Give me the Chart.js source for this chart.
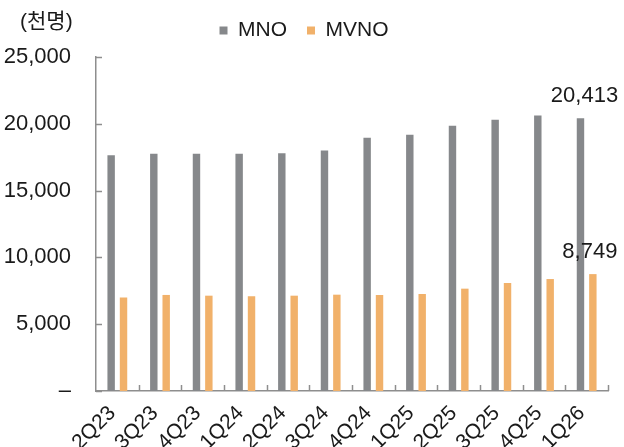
<!DOCTYPE html>
<html>
<head>
<meta charset="utf-8">
<script src="https://cdn.jsdelivr.net/npm/chart.js@4"></script>
<style>
  html, body { margin: 0; padding: 0; background: #fff; }
  #wrap { width: 624px; height: 447px; }
</style>
</head>
<body>
<div id="wrap"><canvas id="chart"></canvas></div>
<script>
// Quarterly subscribers (thousands)
const QUARTERS = ['2Q23', '3Q23', '4Q23', '1Q24', '2Q24', '3Q24', '4Q24', '1Q25', '2Q25', '3Q25', '4Q25', '1Q26'];
const MNO  = [17640, 17760, 17760, 17760, 17790, 18010, 18960, 19180, 19850, 20300, 20620, 20413];
const MVNO = [6990, 7190, 7135, 7085, 7135, 7210, 7190, 7260, 7660, 8080, 8380, 8749];
const Y_TICKS = [0, 5000, 10000, 15000, 20000, 25000];
const UNIT_LABEL = '(천명)';

const COLOR_MNO  = '#86888b';
const COLOR_MVNO = '#f1b16a';
const AXIS_COLOR = '#8e8e8e';
const TEXT_COLOR = '#1a1a1a';
const FONT = "'Liberation Sans', 'Noto Sans CJK KR', sans-serif";

// inward tick marks + unit label + last-point value labels
const extras = {
  id: 'extras',
  afterDraw(chart) {
    const { ctx, chartArea, scales } = chart;
    const x = scales.x, y = scales.y;
    ctx.save();
    ctx.strokeStyle = AXIS_COLOR;
    ctx.lineWidth = 1.5;
    ctx.beginPath();
    Y_TICKS.forEach(v => {
      const py = Math.round(y.getPixelForValue(v)) + 0.5;
      ctx.moveTo(chartArea.left, py);
      ctx.lineTo(chartArea.left + 6, py);
    });
    for (let i = 0; i < QUARTERS.length; i++) {
      const px = i < QUARTERS.length - 1
        ? (x.getPixelForValue(i) + x.getPixelForValue(i + 1)) / 2
        : chartArea.right;
      ctx.moveTo(Math.round(px) + 0.5, chartArea.bottom);
      ctx.lineTo(Math.round(px) + 0.5, chartArea.bottom - 6);
    }
    ctx.stroke();

    ctx.fillStyle = TEXT_COLOR;
    ctx.font = '21px ' + FONT;
    ctx.textAlign = 'left';
    ctx.textBaseline = 'middle';
    ctx.fillText(UNIT_LABEL, 20, 22);

    const last = QUARTERS.length - 1;
    const barMno = chart.getDatasetMeta(0).data[last];
    const barMvno = chart.getDatasetMeta(1).data[last];
    ctx.font = '22px ' + FONT;
    ctx.textAlign = 'center';
    ctx.textBaseline = 'bottom';
    ctx.fillText(MNO[last].toLocaleString('en-US'), barMno.x + 4, barMno.y - 11);
    ctx.fillText(MVNO[last].toLocaleString('en-US'), barMvno.x - 3, barMvno.y - 11);
    ctx.restore();
  }
};

new Chart(document.getElementById('chart'), {
  type: 'bar',
  data: {
    labels: QUARTERS,
    datasets: [
      { label: 'MNO', data: MNO, backgroundColor: COLOR_MNO },
      { label: 'MVNO', data: MVNO, backgroundColor: COLOR_MVNO },
    ],
  },
  options: {
    responsive: true,
    maintainAspectRatio: false,
    animation: false,
    categoryPercentage: 0.58,
    barPercentage: 0.6,
    layout: { padding: { top: 0, right: 16, left: 0, bottom: 0 } },
    plugins: {
      legend: {
        position: 'top',
        labels: {
          boxWidth: 8,
          boxHeight: 8,
          padding: 20,
          color: TEXT_COLOR,
          font: { size: 21, family: FONT },
        },
      },
      // empty spacer between legend and plot
      subtitle: {
        display: true,
        text: '',
        weight: 500,
        padding: 0,
        font: { size: 6, lineHeight: 1 },
      },
      tooltip: { enabled: false },
    },
    scales: {
      x: {
        afterFit: s => { s.height = 56; },
        grid: { display: false },
        border: { display: true, color: AXIS_COLOR, width: 1.5 },
        ticks: {
          color: TEXT_COLOR,
          font: { size: 21, family: FONT },
          maxRotation: 45,
          minRotation: 45,
          padding: 2,
          labelOffset: -5,
        },
      },
      y: {
        min: 0,
        max: 25000,
        afterBuildTicks: s => { s.ticks = Y_TICKS.map(v => ({ value: v })); },
        afterFit: s => { s.width = 96; },
        grid: { display: false },
        border: { display: true, color: AXIS_COLOR, width: 1.5 },
        ticks: {
          color: TEXT_COLOR,
          font: { size: 22, family: FONT },
          padding: 17,
          callback: v => v === 0 ? '–' : v.toLocaleString('en-US'),
        },
      },
    },
  },
  plugins: [extras],
});
</script>
</body>
</html>
